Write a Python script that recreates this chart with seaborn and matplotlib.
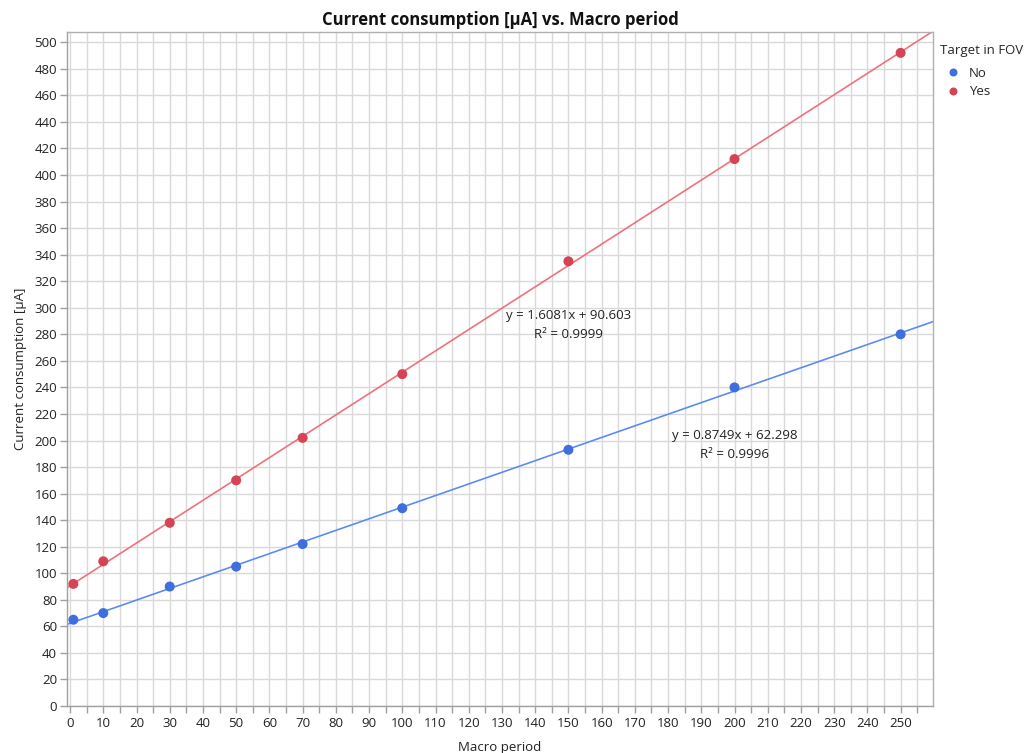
import numpy as np
import pandas as pd
import matplotlib
matplotlib.use("Agg")
import matplotlib.pyplot as plt
import seaborn as sns
from matplotlib.ticker import MultipleLocator

# data
macro_period = [1, 10, 30, 50, 70, 100, 150, 200, 250]
current_no = [65, 70, 90, 105, 122, 149, 193, 240, 280]
current_yes = [92, 109, 138, 170, 202, 250, 335, 412, 492]
groups = ["No", "Yes"]
# trend lines as printed on the chart
slopes = [0.8749, 1.6081]
intercepts = [62.298, 90.603]
r2 = [0.9996, 0.9999]
label_pos = [(200, 203.5), (150, 294)]

dot_colors = {"No": "#3f6fdc", "Yes": "#d44455"}
line_colors = {"No": "#5b8cf5", "Yes": "#f0717c"}

df = pd.DataFrame({
    "Macro period": macro_period * 2,
    "Current consumption [µA]": current_no + current_yes,
    "Target in FOV": ["No"] * len(macro_period) + ["Yes"] * len(macro_period),
})

sns.set_theme(style="whitegrid")
plt.rcParams["font.family"] = ["Open Sans", "DejaVu Sans"]

fig = plt.figure(figsize=(10.3, 7.53), dpi=100)
ax = fig.add_axes([0.0648, 0.0624, 0.8412, 0.8956])

xlim = (-1, 259.8)
xs = np.array(xlim)
for g, m, b in zip(groups, slopes, intercepts):
    ax.plot(xs, m * xs + b, color=line_colors[g], lw=1.2, zorder=2)

sns.scatterplot(data=df, x="Macro period", y="Current consumption [µA]",
                hue="Target in FOV", palette=dot_colors, s=52,
                edgecolor="none", ax=ax, zorder=3)

for (px, py), m, b, r in zip(label_pos, slopes, intercepts, r2):
    ax.text(px, py, f"y = {m:.4f}x + {b:.3f}", ha="center", va="center",
            fontsize=9.5, color="#222222")
    ax.text(px, py - 14, f"R² = {r:.4f}", ha="center", va="center",
            fontsize=9.5, color="#222222")

ax.set_xlim(*xlim)
ax.set_ylim(0, 508)
ax.xaxis.set_major_locator(MultipleLocator(10))
ax.xaxis.set_minor_locator(MultipleLocator(5))
ax.yaxis.set_major_locator(MultipleLocator(20))
ax.grid(which="both", axis="x", color="#d9d9d9", lw=1)
ax.grid(which="major", axis="y", color="#d9d9d9", lw=1)
ax.tick_params(axis="both", which="both", direction="out", length=5, width=1,
               color="#a0a0a0", labelsize=9.5, labelcolor="#222222", pad=2,
               left=True, bottom=True)
ax.tick_params(axis="x", which="both", pad=3)
for sp in ax.spines.values():
    sp.set_color("#b0b0b0")
    sp.set_linewidth(1)
ax.spines["left"].set_color("#a0a0a0")
ax.spines["bottom"].set_color("#a0a0a0")

ax.set_xlabel("Macro period", fontsize=9.5, color="#222222", labelpad=8)
ax.set_ylabel("Current consumption [µA]", fontsize=9.5, color="#222222", labelpad=5)
ax.set_title("Current consumption [µA] vs. Macro period", fontsize=12,
             fontweight="bold", color="#111111", pad=5)

leg = ax.legend(title="Target in FOV", loc="upper left", bbox_to_anchor=(1.0, 0.991),
                frameon=False, fontsize=9.5, title_fontsize=9.5,
                handletextpad=0.2, borderaxespad=0.1, labelspacing=0.4,
                markerscale=0.8)
leg._legend_box.align = "left"
leg._legend_box.sep = 7

fig.savefig("out.png", dpi=100)
